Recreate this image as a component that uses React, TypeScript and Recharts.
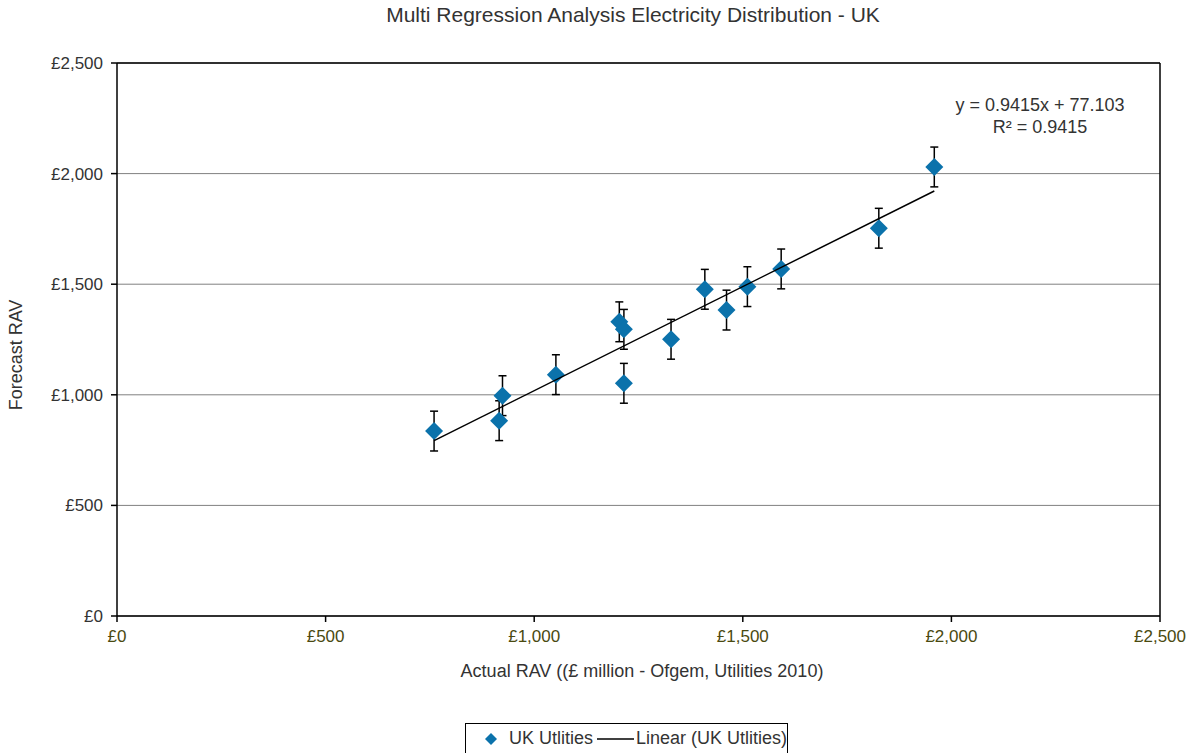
import React from "react";
import {
  ScatterChart,
  Scatter,
  XAxis,
  YAxis,
  CartesianGrid,
  ErrorBar,
  ReferenceLine,
} from "recharts";

// actual vs forecast RAV, UK electricity distribution utilities (£ million)
const actualRav = [760, 916, 924, 1052, 1204, 1215, 1215, 1328, 1409, 1461, 1511, 1592, 1826, 1959];
const forecastRav = [836, 883, 996, 1091, 1330, 1296, 1052, 1251, 1477, 1383, 1489, 1569, 1753, 2030];
const errorMargin = [90, 90, 90, 90, 90, 90, 90, 90, 90, 90, 90, 90, 90, 90];

const axisTicks = [0, 500, 1000, 1500, 2000, 2500];

// Excel linear trendline
const slope = 0.9415;
const intercept = 77.103;
const rSquared = 0.9415;

const points = actualRav.map((x, i) => ({ x, y: forecastRav[i], err: errorMargin[i] }));
const xMin = Math.min(...actualRav);
const xMax = Math.max(...actualRav);
const trend = [
  { x: xMin, y: slope * xMin + intercept },
  { x: xMax, y: slope * xMax + intercept },
];

const BLUE = "#0b72ab";
const FONT = "'Liberation Sans', Arial, sans-serif";

const pounds = (v: number) => "£" + v.toString().replace(/\B(?=(\d{3})+(?!\d))/g, ",");

const Diamond = (props: any) => {
  const { cx, cy } = props;
  const r = 9;
  return (
    <polygon
      points={`${cx},${cy - r} ${cx + r},${cy} ${cx},${cy + r} ${cx - r},${cy}`}
      fill={BLUE}
    />
  );
};

const NoDot = () => <g />;

export default function App() {
  return (
    <div
      style={{
        position: "absolute",
        left: 0,
        top: 0,
        width: 1189,
        height: 753,
        background: "#fff",
        fontFamily: FONT,
        color: "#333",
        overflow: "hidden",
      }}
    >
      <div style={{ position: "absolute", left: 0, width: 1266, top: 3, textAlign: "center", fontSize: 21 }}>
        Multi Regression Analysis Electricity Distribution - UK
      </div>

      <ScatterChart width={1189} height={753} margin={{ top: 63, right: 29, left: 57, bottom: 97 }}>
        <CartesianGrid horizontal vertical={false} stroke="#808080" strokeWidth={1} />
        <XAxis
          type="number"
          dataKey="x"
          domain={[0, 2500]}
          ticks={axisTicks}
          tickFormatter={pounds}
          height={40}
          stroke="#000"
          strokeWidth={1.5}
          tickSize={6}
          tickMargin={8}
          tick={{ fill: "#4a4a10", fontSize: 17, fontFamily: FONT }}
          allowDataOverflow
        />
        <YAxis
          type="number"
          dataKey="y"
          domain={[0, 2500]}
          ticks={axisTicks}
          tickFormatter={pounds}
          width={60}
          stroke="#000"
          strokeWidth={1.5}
          tickSize={6}
          tickMargin={8}
          tick={{ fill: "#333", fontSize: 17, fontFamily: FONT }}
          allowDataOverflow
        />
        <ReferenceLine y={2500} stroke="#000" strokeWidth={1.5} />
        <ReferenceLine x={2500} stroke="#000" strokeWidth={1.5} />
        <Scatter data={points} shape={Diamond} isAnimationActive={false}>
          <ErrorBar dataKey="err" direction="y" width={4} stroke="#000" strokeWidth={1.5} isAnimationActive={false} />
        </Scatter>
        <Scatter
          data={trend}
          shape={NoDot}
          line={{ stroke: "#000", strokeWidth: 1.5 }}
          isAnimationActive={false}
        />
      </ScatterChart>

      <div
        style={{
          position: "absolute",
          left: 0,
          top: 345,
          width: 32,
          height: 20,
          fontSize: 18,
          whiteSpace: "nowrap",
          transform: "rotate(-90deg)",
          display: "flex",
          justifyContent: "center",
        }}
      >
        Forecast RAV
      </div>

      <div style={{ position: "absolute", left: 0, width: 1284, top: 661, textAlign: "center", fontSize: 18 }}>
        Actual RAV ((£ million - Ofgem, Utilities 2010)
      </div>

      <div
        style={{
          position: "absolute",
          left: 940,
          width: 200,
          top: 94,
          textAlign: "center",
          fontSize: 18,
          lineHeight: "22px",
        }}
      >
        <div>y = {slope}x + {intercept}</div>
        <div>R² = {rSquared}</div>
      </div>

      <div
        style={{
          position: "absolute",
          left: 465,
          top: 723,
          width: 323,
          height: 40,
          border: "1px solid #000",
          fontSize: 18,
          display: "flex",
          alignItems: "flex-start",
          paddingTop: 4,
          boxSizing: "border-box",
          whiteSpace: "nowrap",
        }}
      >
        <svg width={20} height={20} style={{ marginLeft: 15, marginTop: 1 }}>
          <polygon points="10,4 16,10 10,16 4,10" fill={BLUE} />
        </svg>
        <span style={{ marginLeft: 8 }}>UK Utlities</span>
        <svg width={40} height={20} style={{ marginLeft: 3, marginTop: 1 }}>
          <line x1={1} y1={10} x2={38} y2={10} stroke="#000" strokeWidth={1.5} />
        </svg>
        <span>Linear (UK Utlities)</span>
      </div>
    </div>
  );
}
